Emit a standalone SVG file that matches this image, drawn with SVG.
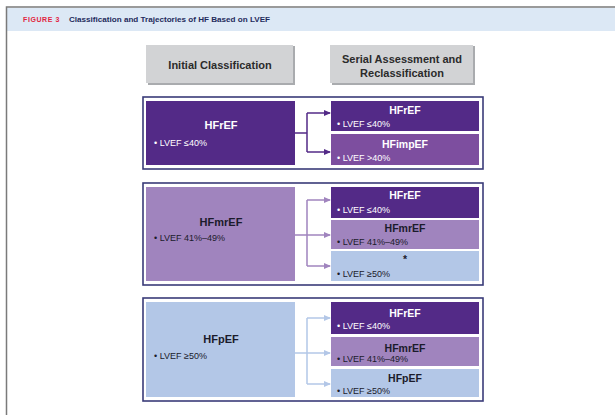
<svg xmlns="http://www.w3.org/2000/svg" width="615" height="415" viewBox="0 0 615 415">
<defs>
<style>
.t{font-family:"Liberation Sans",Arial,sans-serif;}
.hd{font-family:"Liberation Sans",Arial,sans-serif;font-weight:bold;font-size:11px;fill:#2b2b2b;text-anchor:middle;}
.nt{font-family:"Liberation Sans",Arial,sans-serif;font-weight:bold;font-size:11px;text-anchor:middle;}
.st{font-family:"Liberation Sans",Arial,sans-serif;font-weight:bold;font-size:10.5px;text-anchor:middle;}
.bl{font-family:"Liberation Sans",Arial,sans-serif;font-size:9px;}
.w{fill:#ffffff;}
.k{fill:#1b1b2b;}
.dk{fill:#532a87;}
.imp{fill:#7d4e9f;}
.mr{fill:#a084be;}
.pe{fill:#b3c7e7;}
.frame{fill:none;stroke:#3a3b78;stroke-width:1.6;}
.c1{fill:none;stroke:#532a87;stroke-width:1.5;}
.c2{fill:none;stroke:#a084be;stroke-width:1.5;}
.c3{fill:none;stroke:#b3c7e7;stroke-width:1.5;}
</style>
<marker id="a1" markerWidth="8" markerHeight="8" refX="6" refY="3" orient="auto" markerUnits="userSpaceOnUse"><path d="M0,0 L7,3 L0,6 Z" fill="#532a87"/></marker>
<marker id="a2" markerWidth="8" markerHeight="8" refX="6" refY="3" orient="auto" markerUnits="userSpaceOnUse"><path d="M0,0 L7,3 L0,6 Z" fill="#a084be"/></marker>
<marker id="a3" markerWidth="8" markerHeight="8" refX="6" refY="3" orient="auto" markerUnits="userSpaceOnUse"><path d="M0,0 L7,3 L0,6 Z" fill="#b3c7e7"/></marker>
</defs>
<rect width="615" height="415" fill="#ffffff"/>
<g id="header">
<rect x="7" y="8" width="608" height="23" fill="#dce8f5"/>
<path d="M6.5,415 V7 H615" fill="none" stroke="#7a7a7a" stroke-width="1.5"/>
<text x="23" y="22" class="t" font-weight="bold" font-size="7px" fill="#e2243f" letter-spacing="0.6">FIGURE 3</text>
<text x="69" y="22" class="t" font-weight="bold" font-size="7.6px" fill="#1f2b5c" textLength="201" lengthAdjust="spacingAndGlyphs">Classification and Trajectories of HF Based on LVEF</text>
</g>
<g id="col-initial">
<rect x="148" y="46" width="147" height="39" fill="#a9abae"/>
<rect x="146" y="45" width="147" height="38" fill="#d2d3d5"/>
<text x="220" y="69" class="hd">Initial Classification</text>
</g>
<g id="col-serial">
<rect x="332" y="46" width="143" height="39" fill="#a9abae"/>
<rect x="330" y="45" width="143" height="38" fill="#d2d3d5"/>
<text x="402" y="63" class="hd">Serial Assessment and</text>
<text x="402" y="77" class="hd">Reclassification</text>
</g>
<g id="group1">
<rect x="143" y="97" width="340" height="72" class="frame"/>
<g id="g1-hfref">
<rect x="146" y="101" width="149" height="64" class="dk"/>
<text x="221" y="129" class="nt w">HFrEF</text>
<text x="154" y="146" class="bl w">• LVEF ≤40%</text>
</g>
<g id="g1-r1">
<rect x="331" y="101" width="148" height="30" class="dk"/>
<text x="405" y="114" class="st w">HFrEF</text>
<text x="337" y="127" class="bl w">• LVEF ≤40%</text>
</g>
<g id="g1-r2">
<rect x="331" y="134" width="148" height="31" class="imp"/>
<text x="405" y="148" class="st w">HFimpEF</text>
<text x="337" y="161" class="bl w">• LVEF &gt;40%</text>
</g>
</g>
<g id="group2">
<rect x="143" y="183" width="340" height="102" class="frame"/>
<g id="g2-hfmref">
<rect x="146" y="187" width="149" height="94" class="mr"/>
<text x="221" y="226" class="nt k">HFmrEF</text>
<text x="154" y="241" class="bl k">• LVEF 41%–49%</text>
</g>
<g id="g2-r1">
<rect x="331" y="187" width="148" height="31" class="dk"/>
<text x="405" y="199" class="st w">HFrEF</text>
<text x="337" y="213" class="bl w">• LVEF ≤40%</text>
</g>
<g id="g2-r2">
<rect x="331" y="220" width="148" height="29" class="mr"/>
<text x="405" y="232" class="st k">HFmrEF</text>
<text x="337" y="245" class="bl k">• LVEF 41%–49%</text>
</g>
<g id="g2-r3">
<rect x="331" y="251" width="148" height="30" class="pe"/>
<text x="405" y="263" class="st k">*</text>
<text x="337" y="277" class="bl k">• LVEF ≥50%</text>
</g>
</g>
<g id="group3">
<rect x="143" y="298" width="340" height="103" class="frame"/>
<g id="g3-hfpef">
<rect x="146" y="302" width="149" height="95" class="pe"/>
<text x="221" y="343" class="nt k">HFpEF</text>
<text x="154" y="359" class="bl k">• LVEF ≥50%</text>
</g>
<g id="g3-r1">
<rect x="331" y="302" width="148" height="32" class="dk"/>
<text x="405" y="317" class="st w">HFrEF</text>
<text x="337" y="329" class="bl w">• LVEF ≤40%</text>
</g>
<g id="g3-r2">
<rect x="331" y="337" width="148" height="29" class="mr"/>
<text x="405" y="352" class="st k">HFmrEF</text>
<text x="337" y="362" class="bl k">• LVEF 41%–49%</text>
</g>
<g id="g3-r3">
<rect x="331" y="369" width="148" height="28" class="pe"/>
<text x="405" y="382" class="st k">HFpEF</text>
<text x="337" y="394" class="bl k">• LVEF ≥50%</text>
</g>
</g>
<g id="connectors">
<path d="M295,133 H307 M307,113 V152" class="c1"/>
<path d="M307,113 H330" class="c1" marker-end="url(#a1)"/>
<path d="M307,152 H330" class="c1" marker-end="url(#a1)"/>
<path d="M295,235 H307 M307,200 V266" class="c2"/>
<path d="M307,200 H330" class="c2" marker-end="url(#a2)"/>
<path d="M307,235 H330" class="c2" marker-end="url(#a2)"/>
<path d="M307,266 H330" class="c2" marker-end="url(#a2)"/>
<path d="M295,353 H307 M307,318 V384" class="c3"/>
<path d="M307,318 H330" class="c3" marker-end="url(#a3)"/>
<path d="M307,353 H330" class="c3" marker-end="url(#a3)"/>
<path d="M307,384 H330" class="c3" marker-end="url(#a3)"/>
</g>
</svg>
